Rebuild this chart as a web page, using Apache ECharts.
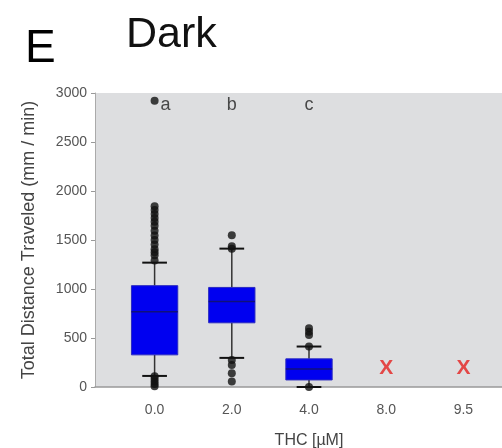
<!DOCTYPE html>
<html>
<head>
<meta charset="utf-8">
<script src="https://cdn.jsdelivr.net/npm/echarts@6/dist/echarts.min.js"></script>
<style>
    html, body { margin: 0; padding: 0; background: #fff; }
    #chart { width: 502px; height: 448px; }
</style>
</head>
<body>
<div id="chart"></div>
<script>
// THC concentrations (µM)
const doses = ["0.0", "2.0", "4.0", "8.0", "9.5"];
// [whisker low, Q1, median, Q3, whisker high]
const boxStats = [
    [113, 328, 768, 1034, 1269],
    [297, 655, 873, 1016, 1412],
    [0, 72, 184, 287, 413]
];
// outliers per dose index
const outliers0 = [2920, 1845, 1805, 1765, 1725, 1685, 1645, 1595, 1545, 1500, 1455, 1405, 1375, 1345, 1290, 110, 85, 55, 30, 8];
const outliers1 = [1549, 1436, 1410, 276, 225, 140, 55];
const outliers2 = [600, 565, 530, 413, 0];
// significance letters
const letters = ["a", "b", "c"];
const letterY = 2880;
// no data (X) marks
const missingIdx = [3, 4];
const missingY = 195;

const chart = echarts.init(document.getElementById("chart"));

let outlierData = [];
[outliers0, outliers1, outliers2].forEach(function (arr, i) {
    arr.forEach(function (v) { outlierData.push([i, v]); });
});

const option = {
    animation: false,
    title: [
        { text: "E", left: 20, top: 21, textStyle: { fontSize: 46, fontWeight: "normal", color: "#000", fontFamily: "Liberation Sans" } },
        { text: "Dark", left: 121, top: 9, textStyle: { fontSize: 43, fontWeight: "normal", color: "#111", fontFamily: "Liberation Sans" } }
    ],
    grid: [
        { left: 116, right: 0, top: 93, bottom: 61, containLabel: false, outerBoundsMode: "none" },
        { left: 95, right: 0, top: 93, bottom: 61, show: true, backgroundColor: "#dddee0", borderWidth: 0, z: -1, outerBoundsMode: "none" }
    ],
    xAxis: [
        {
            type: "category",
            data: doses,
            name: "THC [µM]",
            nameLocation: "middle",
            nameGap: 46,
            nameTextStyle: { fontSize: 16, color: "#444", fontFamily: "Liberation Sans" },
            axisLine: { show: false },
            axisTick: { alignWithLabel: true, length: 4, lineStyle: { color: "#999" } },
            axisLabel: { fontSize: 14, color: "#555", margin: 16, fontFamily: "Liberation Sans" }
        },
        {
            type: "value", gridIndex: 1,
            axisLine: { show: true, onZero: false, lineStyle: { color: "#999", width: 1.5 } },
            axisTick: { show: false },
            axisLabel: { show: false },
            splitLine: { show: false }
        }
    ],
    yAxis: [
        {
            type: "value",
            min: 0,
            max: 3000,
            interval: 500,
            offset: 21,
            name: "Total Distance Traveled (mm / min)",
            nameLocation: "middle",
            nameGap: 57,
            nameTextStyle: { fontSize: 18, color: "#444", fontFamily: "Liberation Sans" },
            axisLine: { show: true, lineStyle: { color: "#aaa" } },
            axisTick: { show: true, length: 4, lineStyle: { color: "#999" } },
            axisLabel: {
                fontSize: 14, color: "#555", margin: 8, fontFamily: "Liberation Sans",
                formatter: function (v) { return String(v); }
            },
            splitLine: { show: false }
        },
        { type: "value", gridIndex: 1, show: false }
    ],
    series: [
        {
            type: "custom",
            data: boxStats.map(function (s, i) { return [i].concat(s); }),
            encode: { x: 0, y: [1, 2, 3, 4, 5] },
            renderItem: function (params, api) {
                const i = api.value(0);
                const band = api.size([1, 0])[0];
                const bw = band * 0.6;
                const cw = band * 0.32;
                const lo = api.coord([i, api.value(1)]);
                const q1 = api.coord([i, api.value(2)]);
                const md = api.coord([i, api.value(3)]);
                const q3 = api.coord([i, api.value(4)]);
                const hi = api.coord([i, api.value(5)]);
                const x = lo[0];
                const dark = { stroke: "#333", lineWidth: 1.5 };
                return {
                    type: "group",
                    children: [
                        { type: "line", shape: { x1: x, y1: q3[1], x2: x, y2: hi[1] }, style: dark },
                        { type: "line", shape: { x1: x, y1: q1[1], x2: x, y2: lo[1] }, style: dark },
                        { type: "line", shape: { x1: x - cw / 2, y1: hi[1], x2: x + cw / 2, y2: hi[1] }, style: { stroke: "#111", lineWidth: 2 } },
                        { type: "line", shape: { x1: x - cw / 2, y1: lo[1], x2: x + cw / 2, y2: lo[1] }, style: { stroke: "#111", lineWidth: 2 } },
                        { type: "rect", shape: { x: x - bw / 2, y: q3[1], width: bw, height: q1[1] - q3[1] }, style: { fill: "#0000f0", stroke: "#2a2ac0", lineWidth: 1 } },
                        { type: "line", shape: { x1: x - bw / 2, y1: md[1], x2: x + bw / 2, y2: md[1] }, style: { stroke: "#10107a", lineWidth: 1.5 } }
                    ]
                };
            },
            z: 2
        },
        {
            type: "scatter",
            data: outlierData,
            symbolSize: 8,
            itemStyle: { color: "#111" },
            z: 3
        },
        {
            type: "scatter",
            data: letters.map(function (l, i) { return { value: [i, letterY], name: l }; }),
            symbolSize: 0,
            label: {
                show: true,
                position: "inside",
                formatter: "{b}",
                fontSize: 18,
                color: "#222",
                fontFamily: "Liberation Sans"
            },
            z: 4
        },
        {
            type: "scatter",
            data: missingIdx.map(function (i) { return [i, missingY]; }),
            symbolSize: 0,
            label: {
                show: true,
                position: "inside",
                formatter: "X",
                fontSize: 21,
                fontWeight: "bold",
                color: "#e5201f",
                fontFamily: "Liberation Sans"
            },
            z: 4
        }
    ]
};

// letter "a" sits right of the top outlier
option.series[2].data[0].label = { offset: [11, 0] };

chart.setOption(option);
</script>
</body>
</html>
